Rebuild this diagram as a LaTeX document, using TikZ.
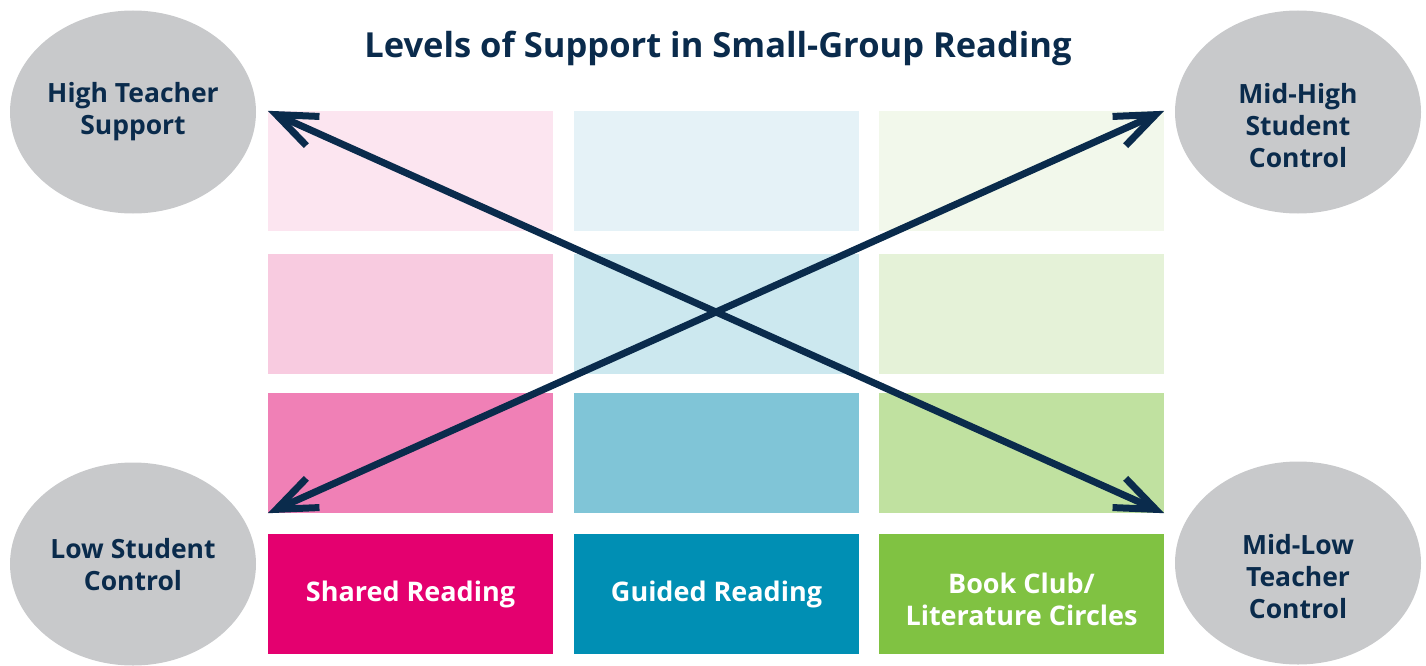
\documentclass[tikz,border=0pt]{standalone}
\usepackage{fontspec}
\setmainfont{Open Sans}
\usetikzlibrary{arrows.meta,shapes.geometric}
\definecolor{navy}{HTML}{0A2B4C}
\definecolor{gray1}{HTML}{C8C9CB}
\definecolor{pA}{HTML}{FCE5F0}\definecolor{pB}{HTML}{F8CBE0}\definecolor{pC}{HTML}{F080B6}\definecolor{pD}{HTML}{E4006F}
\definecolor{bA}{HTML}{E5F2F7}\definecolor{bB}{HTML}{CCE8EF}\definecolor{bC}{HTML}{80C5D7}\definecolor{bD}{HTML}{008FB4}
\definecolor{gA}{HTML}{F2F8EB}\definecolor{gB}{HTML}{E5F2D8}\definecolor{gC}{HTML}{C0E1A0}\definecolor{gD}{HTML}{80C242}
\tikzset{
  cell/.style={rectangle, inner sep=0pt, minimum width=285pt, minimum height=120pt},
  boxtext/.style={text=white, align=center, font=\fontsize{27}{32}\selectfont\bfseries},
  labelcell/.style={cell, boxtext},
  bubble/.style={ellipse, fill=gray1, inner sep=0pt, minimum width=246pt, minimum height=203pt},
  bubbletext/.style={text=navy, align=center, font=\fontsize{26.5}{32}\selectfont\bfseries},
  bigarrow/.style={draw=navy, line width=7pt, {Straight Barb[length=40pt,width=32pt]}-{Straight Barb[length=40pt,width=32pt]}},
}
\begin{document}
\begin{tikzpicture}[x=1pt,y=-1pt]
\path[use as bounding box] (0,0) rectangle (1426,666);
\node[text=navy, font=\fontsize{34.5}{40}\selectfont\bfseries] (title) at (718,48) {Levels of Support in Small-Group Reading};
% column 1
\node[cell, fill=pA] (r1c1) at (410.5,171) {};
\node[cell, fill=pB] (r2c1) at (410.5,314) {};
\node[cell, fill=pC] (r3c1) at (410.5,453) {};
\node[labelcell, fill=pD] (r4c1) at (410.5,594) {Shared Reading};
% column 2
\node[cell, fill=bA] (r1c2) at (716.5,171) {};
\node[cell, fill=bB] (r2c2) at (716.5,314) {};
\node[cell, fill=bC] (r3c2) at (716.5,453) {};
\node[labelcell, fill=bD] (r4c2) at (716.5,594) {Guided Reading};
% column 3
\node[cell, fill=gA] (r1c3) at (1021.5,171) {};
\node[cell, fill=gB] (r2c3) at (1021.5,314) {};
\node[cell, fill=gC] (r3c3) at (1021.5,453) {};
\node[cell, fill=gD] (r4c3) at (1021.5,594) {};
\node[boxtext] (r4c3T) at (1021.5,599) {Book Club/\\Literature Circles};
% arrows
\draw[bigarrow] (r1c1.north west) -- (r3c3.south east);
\draw[bigarrow] (r3c1.south west) -- (r1c3.north east);
% bubbles
\node[bubble] (hts) at (133,112) {};
\node[bubble] (mhs) at (1298,112) {};
\node[bubble] (lsc) at (133,564) {};
\node[bubble] (mlt) at (1298,563) {};
\node[bubbletext] (htsT) at (133,112) {High Teacher\\Support};
\node[bubbletext] (mhsT) at (1298,126) {Mid-High\\Student\\Control};
\node[bubbletext] (lscT) at (133,565) {Low Student\\Control};
\node[bubbletext] (mltT) at (1298,577) {Mid-Low\\Teacher\\Control};
\end{tikzpicture}
\end{document}
